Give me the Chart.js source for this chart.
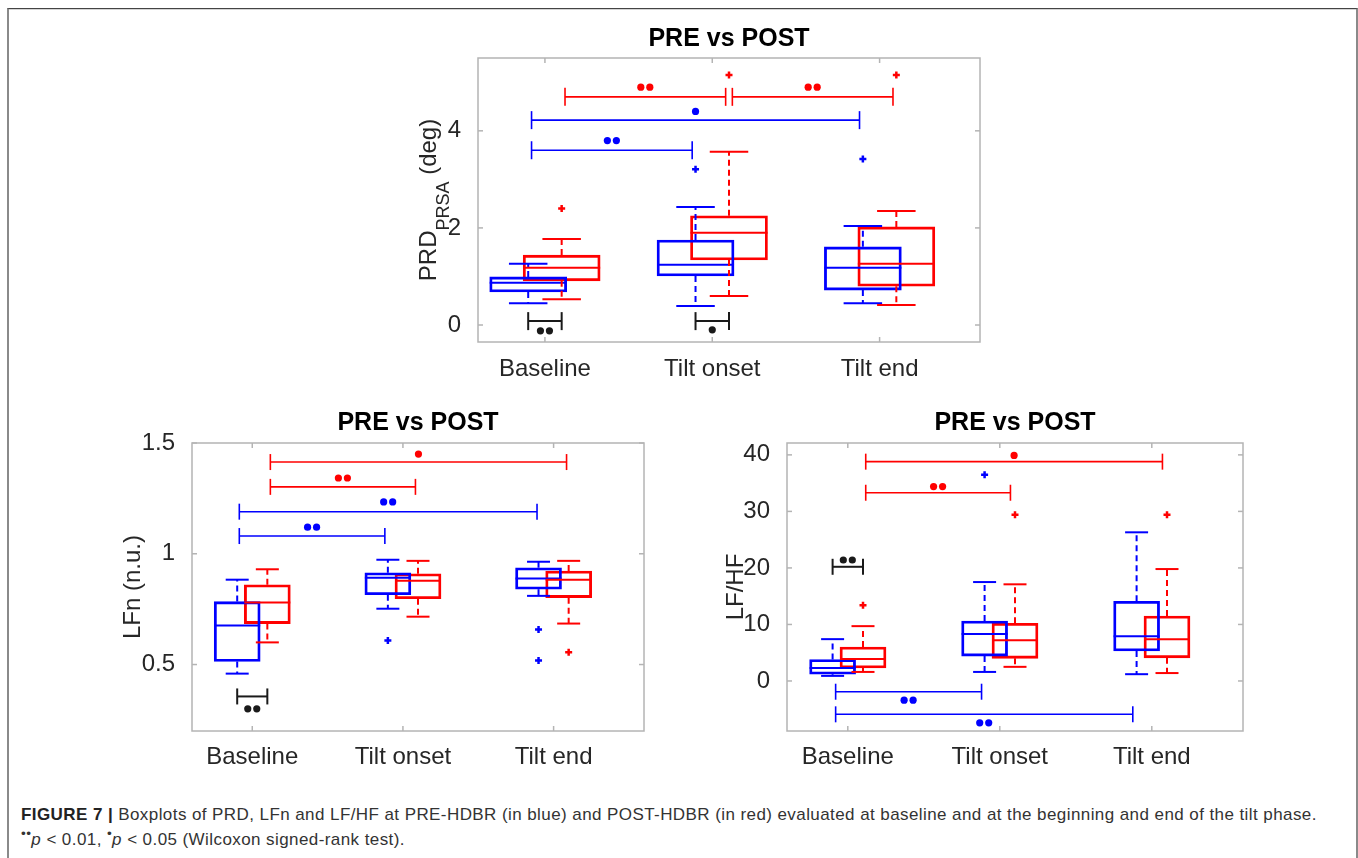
<!DOCTYPE html>
<html>
<head>
<meta charset="utf-8">
<title>PRE vs POST boxplots</title>
<script src="https://cdn.jsdelivr.net/npm/chart.js@4.4.1/dist/chart.umd.min.js"></script>
<style>
    html, body { margin: 0; padding: 0; background: #fff; }
    body { width: 1358px; height: 858px; position: relative; overflow: hidden;
           font-family: "Liberation Sans", Arial, Helvetica, sans-serif; }
    .frame { position: absolute; left: 7px; top: 8px; width: 1347px; height: 880px;
             border-top: 1px solid #444; border-left: 2px solid #8a8a8a; border-right: 2px solid #8a8a8a;
             box-shadow: inset 0 1px 0 #d4d4d4; }
    .panel { position: absolute; }
    #caption { position: absolute; left: 21px; top: 802px; font-size: 17px; letter-spacing: 0.42px;
               line-height: 25px; color: #333; white-space: nowrap; }
    #caption b { color: #222; }
    #caption sup { line-height: 0; font-size: 0.8em; }
</style>
</head>
<body>
<div class="frame"></div>
<div class="panel" style="left:380px;top:10px;width:698px;height:380px"><canvas id="prdChart"></canvas></div>
<div class="panel" style="left:100px;top:395px;width:636px;height:390px"><canvas id="lfnChart"></canvas></div>
<div class="panel" style="left:690px;top:395px;width:650px;height:390px"><canvas id="lfhfChart"></canvas></div>
<div id="caption">
    <b>FIGURE 7 |</b> Boxplots of PRD, LFn and LF/HF at PRE-HDBR (in blue) and POST-HDBR (in red) evaluated at baseline and at the beginning and end of the tilt phase.<br>
    <sup>••</sup><i>p</i> &lt; 0.01, <sup>•</sup><i>p</i> &lt; 0.05 (Wilcoxon signed-rank test).
</div>

<script>
const categories = ['Baseline', 'Tilt onset', 'Tilt end'];
const prePos = [0.9, 1.9, 2.9];
const postPos = [1.1, 2.1, 3.1];

// PRD (PRSA), deg
const prdTicks = [0, 2, 4];
const prdPreLow = [0.45, 0.39, 0.45];
const prdPreQ1 = [0.68, 1.01, 0.72];
const prdPreMed = [0.87, 1.24, 1.18];
const prdPreQ3 = [0.99, 1.75, 1.61];
const prdPreHigh = [1.26, 2.43, 2.04];
const prdPreOut = [[1.9, 3.21], [2.9, 3.42]];
const prdPostLow = [0.53, 0.60, 0.41];
const prdPostQ1 = [0.91, 1.34, 0.80];
const prdPostMed = [1.18, 1.90, 1.26];
const prdPostQ3 = [1.44, 2.25, 2.02];
const prdPostHigh = [1.77, 3.57, 2.35];
const prdPostOut = [[1.1, 2.4], [2.1, 5.15], [3.1, 5.15]];
// [from, to, y, dots, dotY, group]
const prdSig = [
    [1.12, 2.08, 4.7, 2, 4.9, 'post'],
    [2.12, 3.08, 4.7, 2, 4.9, 'post'],
    [0.92, 2.88, 4.22, 1, 4.4, 'pre'],
    [0.92, 1.88, 3.6, 2, 3.8, 'pre'],
    [0.9, 1.1, 0.08, 2, -0.12, 'diff'],
    [1.9, 2.1, 0.08, 1, -0.1, 'diff']
];

// LFn (n.u.)
const lfnTicks = [0.5, 1, 1.5];
const lfnPreLow = [0.459, 0.752, 0.81];
const lfnPreQ1 = [0.514, 0.815, 0.84];
const lfnPreMed = [0.676, 0.892, 0.888];
const lfnPreQ3 = [0.784, 0.914, 0.937];
const lfnPreHigh = [0.883, 0.973, 0.964];
const lfnPreOut = [[1.9, 0.608], [2.9, 0.658], [2.9, 0.518]];
const lfnPostLow = [0.60, 0.716, 0.685];
const lfnPostQ1 = [0.685, 0.797, 0.802];
const lfnPostMed = [0.78, 0.878, 0.883];
const lfnPostQ3 = [0.86, 0.91, 0.922];
const lfnPostHigh = [0.93, 0.968, 0.968];
const lfnPostOut = [[3.1, 0.555]];
const lfnSig = [
    [1.12, 3.086, 1.414, 1, 1.45, 'post'],
    [1.12, 2.083, 1.302, 2, 1.342, 'post'],
    [0.914, 2.89, 1.19, 2, 1.234, 'pre'],
    [0.914, 1.88, 1.08, 2, 1.12, 'pre'],
    [0.9, 1.1, 0.356, 2, 0.30, 'diff']
];

// LF/HF
const lfhfTicks = [0, 10, 20, 30, 40];
const lfhfPreLow = [0.9, 1.6, 1.2];
const lfhfPreQ1 = [1.2, 4.4, 5.3];
const lfhfPreMed = [2.3, 8.3, 7.9];
const lfhfPreQ3 = [3.8, 10.6, 14.1];
const lfhfPreHigh = [7.4, 17.5, 26.3];
const lfhfPreOut = [[1.9, 36.5]];
const lfhfPostLow = [1.6, 2.5, 1.4];
const lfhfPostQ1 = [2.3, 4.0, 4.1];
const lfhfPostMed = [3.9, 7.2, 7.4];
const lfhfPostQ3 = [6.0, 10.2, 11.5];
const lfhfPostHigh = [9.7, 17.1, 19.8];
const lfhfPostOut = [[1.1, 13.4], [2.1, 29.4], [3.1, 29.4]];
const lfhfSig = [
    [1.118, 3.07, 38.8, 1, 39.9, 'post'],
    [1.118, 2.07, 33.3, 2, 34.4, 'post'],
    [0.92, 1.88, -1.9, 2, -3.4, 'pre'],
    [0.92, 2.875, -5.9, 2, -7.4, 'pre'],
    [0.9, 1.1, 20.2, 2, 21.4, 'diff']
];

const colors = { pre: '#0000ff', post: '#ff0000', diff: '#1a1a1a' };
const FONT = '"Liberation Sans", Arial, Helvetica, sans-serif';

Chart.defaults.font.family = FONT;
Chart.defaults.color = '#262626';

function boxData(pos, q1, q3) {
    return pos.map((p, i) => ({ x: p, y: [q1[i], q3[i]] }));
}

function line(ctx, x1, y1, x2, y2) {
    ctx.beginPath();
    ctx.moveTo(x1, y1);
    ctx.lineTo(x2, y2);
    ctx.stroke();
}

// whiskers, medians, frame, inward ticks and significance brackets
function boxExtras(p) {
    return {
        id: 'boxExtras',
        afterDatasetsDraw(chart) {
            const ctx = chart.ctx;
            const xs = chart.scales.x, ys = chart.scales.y;
            const area = chart.chartArea;
            ctx.save();

            // frame + ticks
            ctx.strokeStyle = '#b4b4b4';
            ctx.lineWidth = 1.5;
            ctx.strokeRect(area.left, area.top, area.right - area.left, area.bottom - area.top);
            [1, 2, 3].forEach(v => {
                const x = xs.getPixelForValue(v);
                line(ctx, x, area.bottom, x, area.bottom - 5);
                line(ctx, x, area.top, x, area.top + 5);
            });
            p.ticks.forEach(v => {
                const y = ys.getPixelForValue(v);
                line(ctx, area.left, y, area.left + 5, y);
                line(ctx, area.right, y, area.right - 5, y);
            });

            // whiskers and medians
            p.groups.forEach(g => {
                ctx.strokeStyle = colors[g.key];
                ctx.lineWidth = 2;
                g.pos.forEach((pos, i) => {
                    const x = xs.getPixelForValue(pos);
                    const half = p.boxPx / 2, cap = p.boxPx / 4;
                    const yLo = ys.getPixelForValue(g.low[i]);
                    const yHi = ys.getPixelForValue(g.high[i]);
                    ctx.setLineDash([6, 4]);
                    line(ctx, x, ys.getPixelForValue(g.q3[i]), x, yHi);
                    line(ctx, x, ys.getPixelForValue(g.q1[i]), x, yLo);
                    ctx.setLineDash([]);
                    line(ctx, x - cap, yHi, x + cap, yHi);
                    line(ctx, x - cap, yLo, x + cap, yLo);
                    const yMed = ys.getPixelForValue(g.med[i]);
                    line(ctx, x - half, yMed, x + half, yMed);
                });
            });

            // significance brackets
            p.sig.forEach(([from, to, yv, dots, dotY, key]) => {
                const x1 = xs.getPixelForValue(from), x2 = xs.getPixelForValue(to);
                const y = ys.getPixelForValue(yv);
                ctx.strokeStyle = colors[key];
                ctx.fillStyle = colors[key];
                ctx.lineWidth = key === 'diff' ? 2 : 1.6;
                line(ctx, x1, y, x2, y);
                line(ctx, x1, y - p.tickPx, x1, y + p.tickPx);
                line(ctx, x2, y - p.tickPx, x2, y + p.tickPx);
                const cx = (x1 + x2) / 2, cy = ys.getPixelForValue(dotY);
                for (let k = 0; k < dots; k++) {
                    const dx = cx + (k - (dots - 1) / 2) * 9;
                    ctx.beginPath();
                    ctx.arc(dx, cy, 3.6, 0, Math.PI * 2);
                    ctx.fill();
                }
            });

            // PRD axis label with subscript
            if (p.subLabel) {
                const cy = (area.top + area.bottom) / 2;
                ctx.translate(area.left - 42, cy);
                ctx.rotate(-Math.PI / 2);
                ctx.fillStyle = '#262626';
                ctx.textBaseline = 'alphabetic';
                const big = '24px ' + FONT, small = '18px ' + FONT;
                ctx.font = big;
                const w1 = ctx.measureText('PRD').width;
                const w3 = ctx.measureText(' (deg)').width;
                ctx.font = small;
                const w2 = ctx.measureText('PRSA').width;
                let x = -(w1 + w2 + w3) / 2;
                ctx.font = big;
                ctx.fillText('PRD', x, 0);
                x += w1;
                ctx.font = small;
                ctx.fillText('PRSA', x, 13);
                x += w2;
                ctx.font = big;
                ctx.fillText(' (deg)', x, 0);
            }
            ctx.restore();
        }
    };
}

function makeChart(id, p) {
    const pre = { key: 'pre', pos: prePos, low: p.pre[0], q1: p.pre[1], med: p.pre[2], q3: p.pre[3], high: p.pre[4] };
    const post = { key: 'post', pos: postPos, low: p.post[0], q1: p.post[1], med: p.post[2], q3: p.post[3], high: p.post[4] };
    const boxSet = (g) => ({
        type: 'bar',
        data: boxData(g.pos, g.q1, g.q3),
        backgroundColor: 'rgba(0,0,0,0)',
        borderColor: colors[g.key],
        borderWidth: 2.2,
        borderSkipped: false,
        barThickness: p.boxPx,
        grouped: false
    });
    const outSet = (pts, key) => ({
        type: 'scatter',
        data: pts.map(([x, y]) => ({ x, y })),
        pointStyle: 'cross',
        radius: 3.5,
        borderWidth: 2.5,
        borderColor: colors[key],
        backgroundColor: colors[key]
    });

    return new Chart(document.getElementById(id), {
        type: 'bar',
        data: {
            datasets: [boxSet(pre), boxSet(post), outSet(p.preOut, 'pre'), outSet(p.postOut, 'post')]
        },
        options: {
            responsive: true,
            maintainAspectRatio: false,
            animation: false,
            events: [],
            layout: { padding: 0 },
            plugins: {
                legend: { display: false },
                tooltip: { enabled: false },
                title: {
                    display: true,
                    text: 'PRE vs POST',
                    color: '#000',
                    font: { size: 25, weight: 'bold' },
                    padding: { top: p.titleTop, bottom: p.titleBottom }
                }
            },
            scales: {
                x: {
                    type: 'linear',
                    min: 0.6,
                    max: 3.6,
                    offset: false,
                    grid: { display: false },
                    border: { display: false },
                    afterBuildTicks: (s) => { s.ticks = [1, 2, 3].map(v => ({ value: v })); },
                    afterFit: (s) => { s.height = p.xHeight; },
                    ticks: {
                        autoSkip: false,
                        maxRotation: 0,
                        padding: p.xPad,
                        font: { size: 24 },
                        callback: (v) => categories[v - 1]
                    }
                },
                y: {
                    min: p.yMin,
                    max: p.yMax,
                    grid: { display: false },
                    border: { display: false },
                    afterBuildTicks: (s) => { s.ticks = p.ticks.map(v => ({ value: v })); },
                    afterFit: (s) => { s.width = p.yWidth; },
                    ticks: { padding: 9, font: { size: 24 }, callback: (v) => String(v) },
                    title: {
                        display: !!p.yTitle,
                        text: p.yTitle || '',
                        font: { size: 24 },
                        padding: { top: p.yTitlePad, bottom: 0 }
                    }
                },
                // empty mirror axis so the title sits centred over the plot box
                yMirror: {
                    position: 'right',
                    min: p.yMin,
                    max: p.yMax,
                    grid: { display: false },
                    border: { display: false },
                    ticks: { display: false },
                    afterFit: (s) => { s.width = p.yWidth; }
                }
            }
        },
        plugins: [boxExtras({ groups: [pre, post], sig: p.sig, ticks: p.ticks, boxPx: p.boxPx, tickPx: p.tickPx, subLabel: p.subLabel })]
    });
}

makeChart('prdChart', {
    pre: [prdPreLow, prdPreQ1, prdPreMed, prdPreQ3, prdPreHigh],
    post: [prdPostLow, prdPostQ1, prdPostMed, prdPostQ3, prdPostHigh],
    preOut: prdPreOut, postOut: prdPostOut, sig: prdSig, ticks: prdTicks,
    yMin: -0.35, yMax: 5.5, boxPx: 77, tickPx: 9,
    yWidth: 98, xHeight: 48, xPad: 5, titleTop: 14, titleBottom: 4,
    subLabel: true
});

makeChart('lfnChart', {
    pre: [lfnPreLow, lfnPreQ1, lfnPreMed, lfnPreQ3, lfnPreHigh],
    post: [lfnPostLow, lfnPostQ1, lfnPostMed, lfnPostQ3, lfnPostHigh],
    preOut: lfnPreOut, postOut: lfnPostOut, sig: lfnSig, ticks: lfnTicks,
    yMin: 0.2, yMax: 1.5, boxPx: 46, tickPx: 8,
    yWidth: 92, xHeight: 54, xPad: 4, titleTop: 13, titleBottom: 5,
    yTitle: 'LFn (n.u.)', yTitlePad: 18.6
});

makeChart('lfhfChart', {
    pre: [lfhfPreLow, lfhfPreQ1, lfhfPreMed, lfhfPreQ3, lfhfPreHigh],
    post: [lfhfPostLow, lfhfPostQ1, lfhfPostMed, lfhfPostQ3, lfhfPostHigh],
    preOut: lfhfPreOut, postOut: lfhfPostOut, sig: lfhfSig, ticks: lfhfTicks,
    yMin: -8.85, yMax: 42.1, boxPx: 46, tickPx: 8,
    yWidth: 97, xHeight: 54, xPad: 4, titleTop: 13, titleBottom: 5,
    yTitle: 'LF/HF', yTitlePad: 31.6
});
</script>
</body>
</html>
